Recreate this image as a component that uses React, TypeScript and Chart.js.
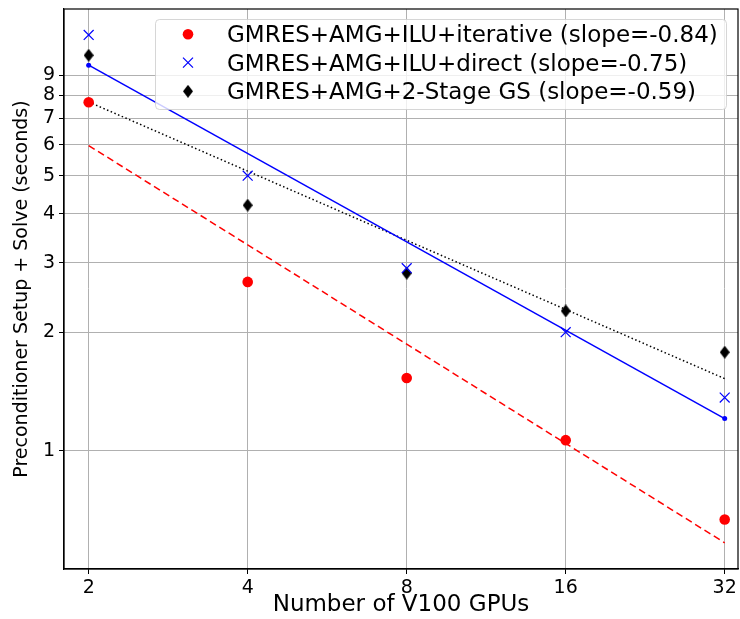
import React, { useEffect, useRef } from "react";
import { Chart, registerables } from "chart.js";
Chart.register(...registerables);

// ---- data ----
const gpus = [2, 4, 8, 16, 32];
const iterativeTimes = [7.69, 2.685, 1.53, 1.063, 0.668];
const directTimes = [11.4, 5.0, 2.91, 2.0, 1.364];
const twoStageTimes = [10.12, 4.207, 2.825, 2.266, 1.779];
const fitX = [2, 32];
const iterativeFit = [5.965, 0.583];
const directFit = [9.55, 1.206];
const twoStageFit = [7.7, 1.524];
const seriesLabels = [
  "GMRES+AMG+ILU+iterative (slope=-0.84)",
  "GMRES+AMG+ILU+direct (slope=-0.75)",
  "GMRES+AMG+2-Stage GS (slope=-0.59)",
];
const xTicks = [2, 4, 8, 16, 32];
const yTicks = [1, 2, 3, 4, 5, 6, 7, 8, 9];
const xTitle = "Number of V100 GPUs";
const yTitle = "Preconditioner Setup + Solve (seconds)";

const FONT = "'DejaVu Sans', sans-serif";
const RED = "#ff0000";
const BLUE = "#0000ff";
const BLACK = "#000000";

function makeDiamond(w: number, h: number, color: string) {
  const c = document.createElement("canvas");
  c.width = w;
  c.height = h;
  const ctx = c.getContext("2d")!;
  ctx.fillStyle = color;
  ctx.beginPath();
  ctx.moveTo(w / 2, 0);
  ctx.lineTo(w, h / 2);
  ctx.lineTo(w / 2, h);
  ctx.lineTo(0, h / 2);
  ctx.closePath();
  ctx.fill();
  return c;
}

const pts = (xs: number[], ys: number[]) => xs.map((x, i) => ({ x, y: ys[i] }));

export default function App() {
  const ref = useRef<HTMLCanvasElement>(null);
  useEffect(() => {
    const diamond = makeDiamond(10, 13, BLACK);

    const areaPlugin = {
      id: "fixArea",
      afterLayout(chart: any) {
        const right = chart.width - 2;
        const a = chart.chartArea;
        a.right = right;
        a.width = right - a.left;
        const xs = chart.scales.x;
        xs.right = right;
        xs.width = right - xs.left;
        xs.configure();
      },
    };

    const framePlugin = {
      id: "frame",
      afterDatasetsDraw(chart: any) {
        const { ctx, chartArea: a } = chart;
        ctx.save();
        ctx.strokeStyle = "#000";
        ctx.lineWidth = 1.2;
        ctx.strokeRect(a.left, a.top, a.right - a.left, a.bottom - a.top);
        ctx.restore();
      },
    };

    const legendPlugin = {
      id: "mplLegend",
      afterDraw(chart: any) {
        const ctx = chart.ctx;
        ctx.save();
        const x = 155.5, y = 19.5, w = 571, h = 90, r = 4;
        ctx.beginPath();
        ctx.moveTo(x + r, y);
        ctx.lineTo(x + w - r, y);
        ctx.arcTo(x + w, y, x + w, y + r, r);
        ctx.lineTo(x + w, y + h - r);
        ctx.arcTo(x + w, y + h, x + w - r, y + h, r);
        ctx.lineTo(x + r, y + h);
        ctx.arcTo(x, y + h, x, y + h - r, r);
        ctx.lineTo(x, y + r);
        ctx.arcTo(x, y, x + r, y, r);
        ctx.closePath();
        ctx.fillStyle = "rgba(255,255,255,0.8)";
        ctx.fill();
        ctx.strokeStyle = "rgba(204,204,204,0.8)";
        ctx.lineWidth = 1;
        ctx.stroke();

        const rows = [34.3, 62.7, 91.3];
        const mx = 188;
        ctx.fillStyle = RED;
        ctx.beginPath();
        ctx.arc(mx, rows[0], 5.3, 0, Math.PI * 2);
        ctx.fill();
        ctx.strokeStyle = BLUE;
        ctx.lineWidth = 1.2;
        ctx.beginPath();
        ctx.moveTo(mx - 5, rows[1] - 5);
        ctx.lineTo(mx + 5, rows[1] + 5);
        ctx.moveTo(mx + 5, rows[1] - 5);
        ctx.lineTo(mx - 5, rows[1] + 5);
        ctx.stroke();
        ctx.drawImage(diamond, mx - 5, rows[2] - 6.5);

        ctx.fillStyle = "#000";
        ctx.font = `23px ${FONT}`;
        ctx.textAlign = "left";
        ctx.textBaseline = "alphabetic";
        const labels = chart.data.datasets.slice(0, 3).map((d: any) => d.label);
        labels.forEach((t: string, i: number) => ctx.fillText(t, 227, rows[i] + 7.8));
        ctx.restore();
      },
    };

    const chart = new Chart(ref.current!, {
      type: "scatter",
      data: {
        datasets: [
          {
            label: seriesLabels[0],
            data: pts(gpus, iterativeTimes),
            pointStyle: "circle",
            pointRadius: 5.3,
            backgroundColor: RED,
            borderColor: RED,
            borderWidth: 0,
          },
          {
            label: seriesLabels[1],
            data: pts(gpus, directTimes),
            pointStyle: "crossRot",
            pointRadius: 7,
            backgroundColor: BLUE,
            borderColor: BLUE,
            borderWidth: 1.2,
          },
          {
            label: seriesLabels[2],
            data: pts(gpus, twoStageTimes),
            pointStyle: diamond as any,
            pointRadius: 6,
            backgroundColor: BLACK,
            borderColor: BLACK,
          },
          {
            label: "iterative fit",
            data: pts(fitX, iterativeFit),
            showLine: true,
            pointRadius: 0,
            borderColor: RED,
            borderWidth: 1.5,
            borderDash: [7, 4],
          },
          {
            label: "direct fit",
            data: pts(fitX, directFit),
            showLine: true,
            pointRadius: 2.5,
            pointBackgroundColor: BLUE,
            pointBorderWidth: 0,
            borderColor: BLUE,
            borderWidth: 1.5,
          },
          {
            label: "2-stage fit",
            data: pts(fitX, twoStageFit),
            showLine: true,
            pointRadius: 0,
            borderColor: BLACK,
            borderWidth: 1.5,
            borderDash: [1.5, 2.5],
          },
        ],
      },
      options: {
        animation: false,
        responsive: false,
        layout: { padding: { top: 9, right: 2, left: 0, bottom: 0 } },
        plugins: {
          legend: { display: false },
          tooltip: { enabled: false },
          title: { display: false },
        },
        scales: {
          x: {
            type: "logarithmic",
            min: 1.796,
            max: 33.91,
            afterBuildTicks: (s: any) => {
              s.ticks = xTicks.map((v) => ({ value: v }));
            },
            afterFit: (s: any) => {
              s.height = 50;
              s.paddingLeft = 0;
              s.paddingRight = 0;
            },
            ticks: {
              autoSkip: false,
              maxRotation: 0,
              minRotation: 0,
              padding: 3,
              color: "#000",
              font: { family: FONT, size: 19 },
              callback: (v: any) => String(v),
            },
            grid: {
              color: "#b0b0b0",
              lineWidth: 1,
              tickColor: "#000",
              tickLength: 5,
            },
            border: { display: true, color: "#000", width: 1.2 },
            title: {
              display: true,
              text: xTitle,
              color: "#000",
              font: { family: FONT, size: 23 },
              padding: { top: 0, bottom: 0 },
            },
          },
          y: {
            type: "logarithmic",
            min: 0.5,
            max: 13.27,
            afterBuildTicks: (s: any) => {
              s.ticks = yTicks.map((v) => ({ value: v }));
            },
            afterFit: (s: any) => {
              s.width = 64;
              s.paddingTop = 0;
              s.paddingBottom = 0;
            },
            ticks: {
              autoSkip: false,
              padding: 4,
              color: "#000",
              font: { family: FONT, size: 19 },
              callback: (v: any) => String(v),
            },
            grid: {
              color: "#b0b0b0",
              lineWidth: 1,
              tickColor: "#000",
              tickLength: 5,
            },
            border: { display: true, color: "#000", width: 1.2 },
            title: {
              display: true,
              text: yTitle,
              color: "#000",
              font: { family: FONT, size: 19 },
              padding: { top: 11, bottom: 0 },
            },
          },
        },
      },
      plugins: [areaPlugin, framePlugin, legendPlugin],
    } as any);
    return () => chart.destroy();
  }, []);

  return (
    <div style={{ position: "fixed", left: 0, top: 0, width: 740, height: 619, background: "#fff" }}>
      <canvas ref={ref} width={740} height={619} style={{ display: "block" }} />
    </div>
  );
}
